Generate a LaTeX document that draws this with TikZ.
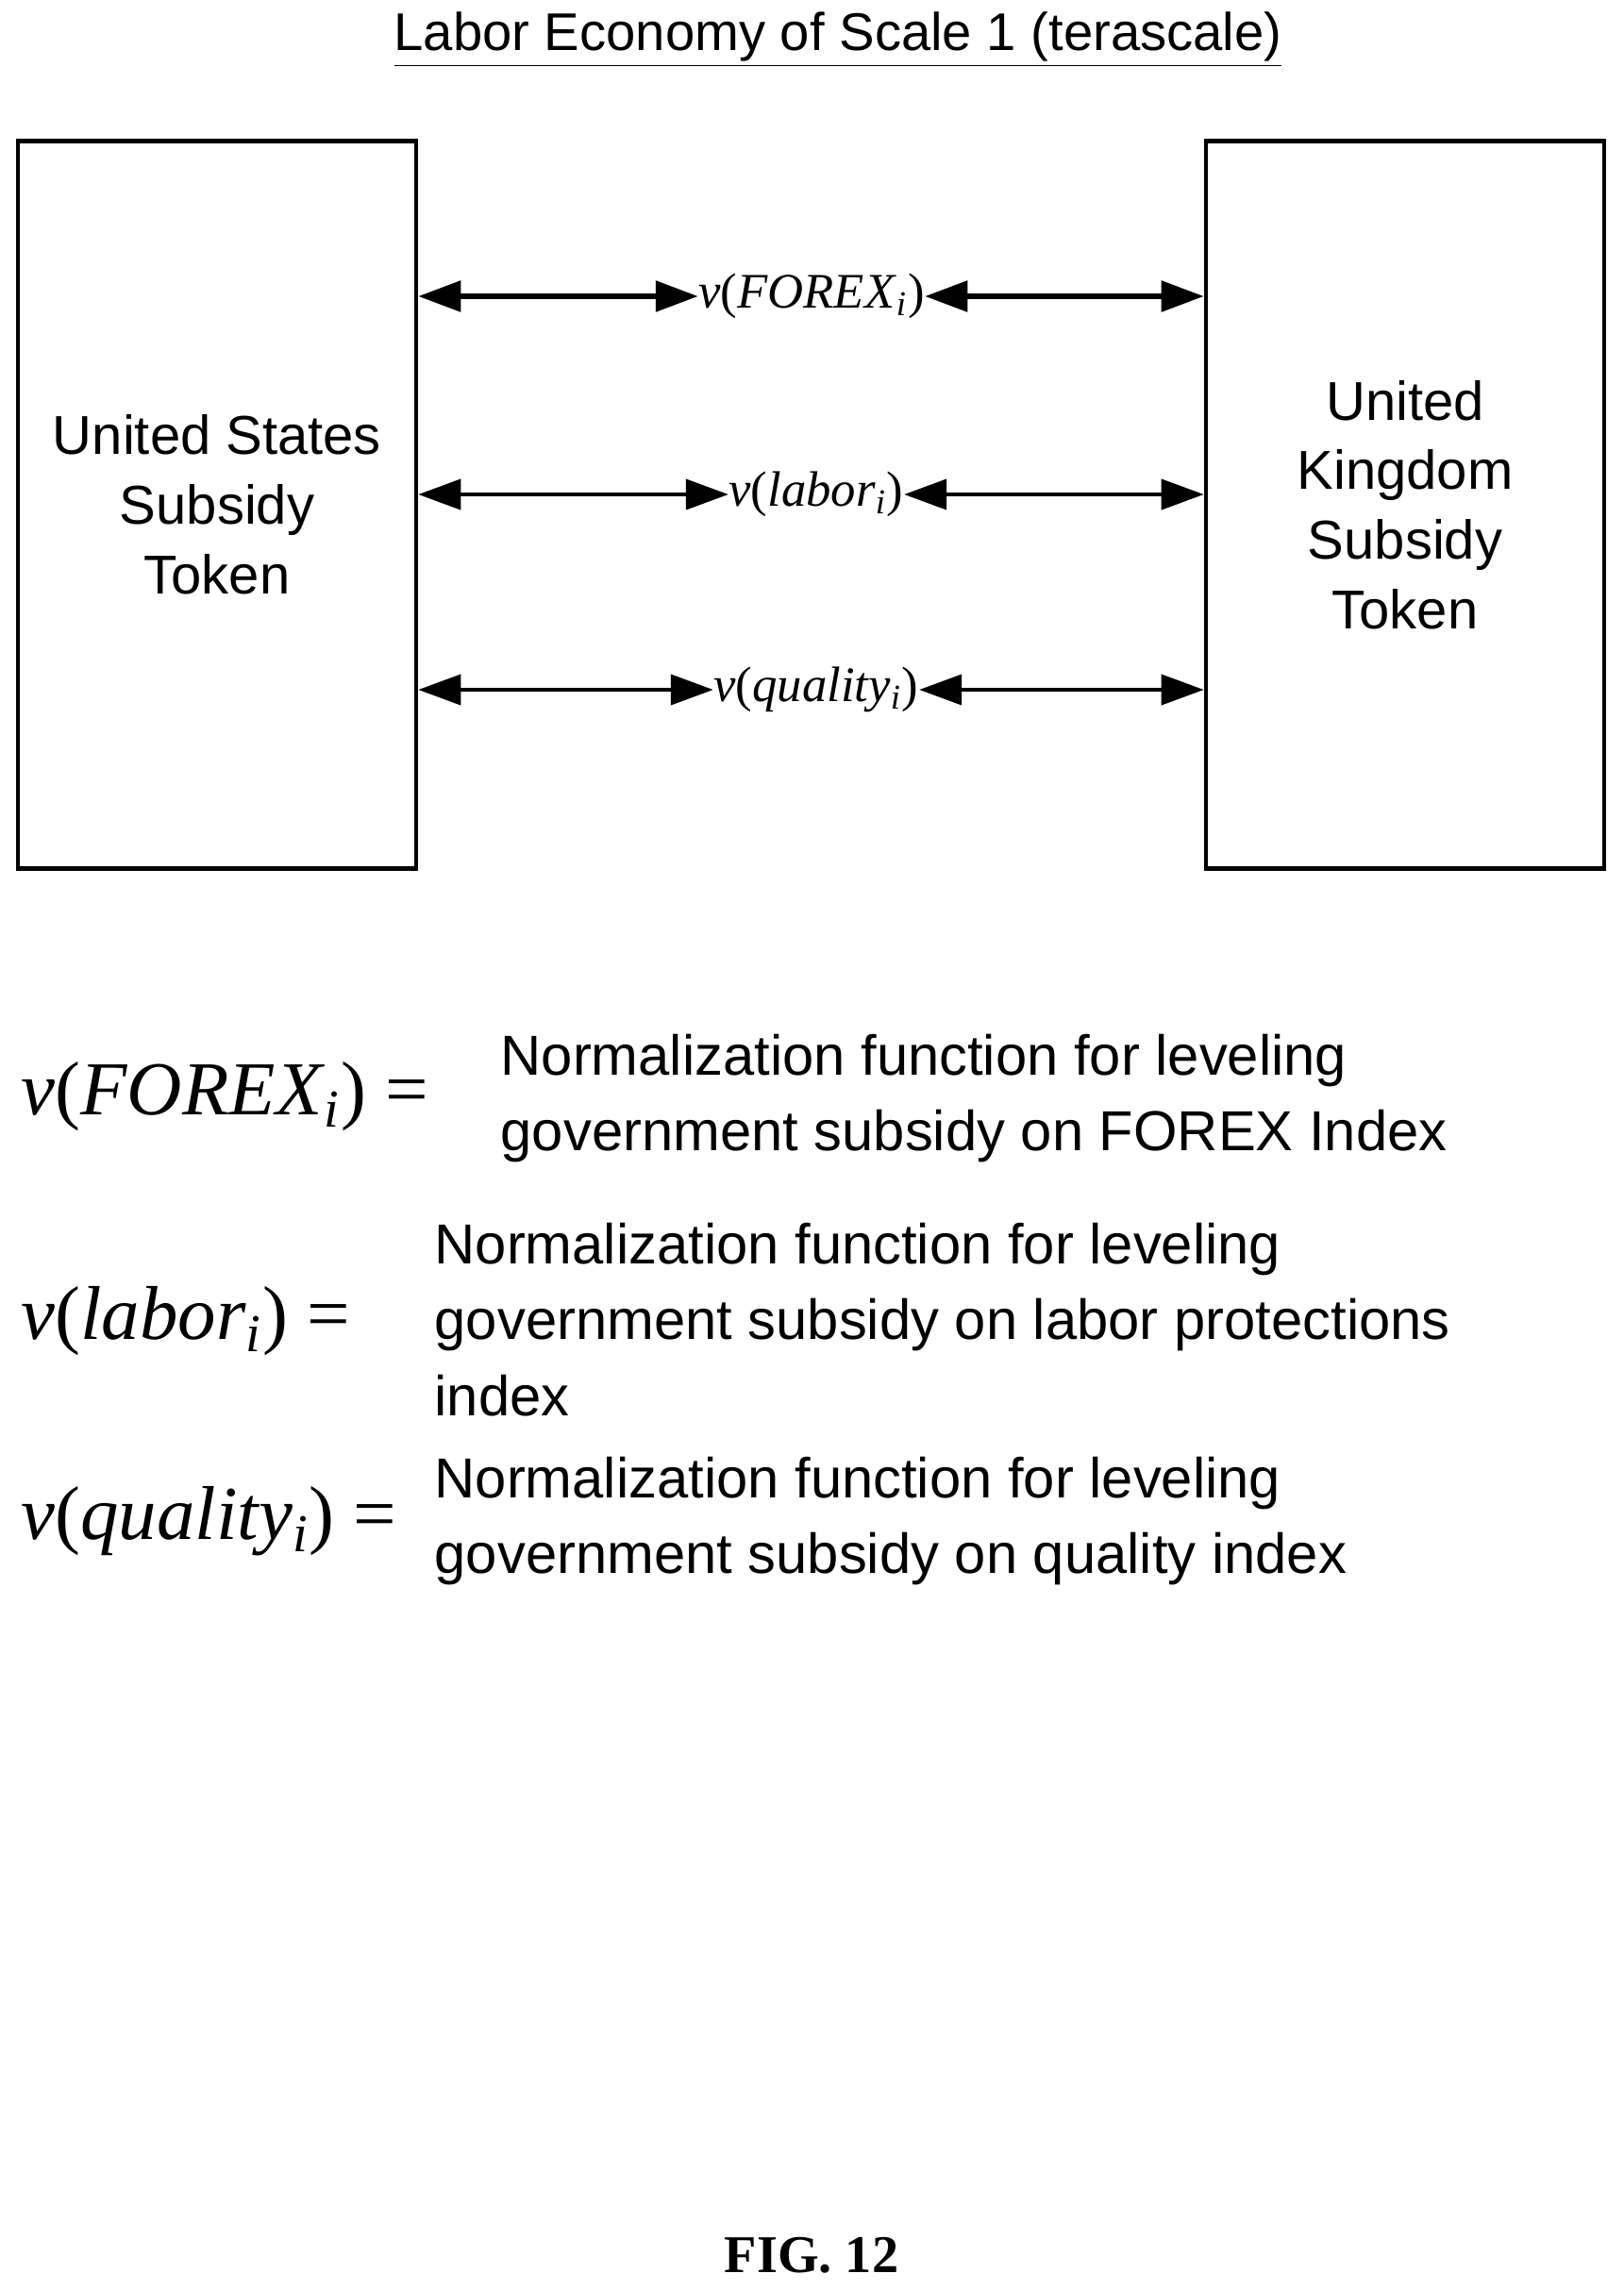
\documentclass[tikz,border=0pt]{standalone}
\usepackage{fontspec}
\setmainfont{Liberation Sans}
\newfontfamily\tms{Liberation Serif}
\usetikzlibrary{arrows.meta,positioning}
\newcommand{\subi}{\textsubscript{\textit{i}}}
\tikzset{
  token/.style={draw, line width=1.3pt, minimum width=4.22cm, minimum height=7.71cm, align=center, font=\fontsize{16.5}{21}\selectfont},
  rel/.style={{Triangle[length=0.45cm,width=0.32cm]}-{Triangle[length=0.45cm,width=0.32cm]}, line width=1.1pt},
  vlab/.style={inner sep=0pt, font=\tms\fontsize{15}{18}\selectfont},
  deflab/.style={anchor=west, inner sep=0pt, font=\tms\fontsize{23}{26}\selectfont},
  deftxt/.style={anchor=north west, align=left, inner sep=0pt, font=\fontsize{17}{23}\selectfont}
}
\begin{document}
\begin{tikzpicture}
  \useasboundingbox (0,0) rectangle (17.21,-24.27);
  % title
  \node (title) at (8.88,-0.42) {\fontsize{16}{20}\selectfont\underline{Labor Economy of Scale 1 (terascale)}};

  % the two tokens
  \node[token] (us) at (2.30,-5.35) {\raisebox{0pt}{}United States\\Subsidy\\Token};
  \node[token] (uk) at (14.89,-5.35) {United\\Kingdom\\Subsidy\\Token};

  % relations
  \node[vlab] (fx) at (8.60,-3.14) {\textit{v}(\textit{FOREX}\subi)};
  \node[vlab] (lb) at (8.65,-5.24) {\textit{v}(\textit{labor}\subi)};
  \node[vlab] (ql) at (8.65,-7.31) {\textit{v}(\textit{quality}\subi)};
  \draw[rel, line width=1.6pt] (us.east |- fx) -- (fx.west);
  \draw[rel, line width=1.6pt] (fx.east) -- (uk.west |- fx);
  \draw[rel] (us.east |- lb) -- (lb.west);
  \draw[rel] (lb.east) -- (uk.west |- lb);
  \draw[rel] (us.east |- ql) -- (ql.west);
  \draw[rel] (ql.east) -- (uk.west |- ql);

  % definitions
  \node[deflab] (d1) at (0.22,-11.62) {\textit{v}(\textit{FOREX}\subi) =};
  \node[deftxt] (t1) at (5.30,-10.95) {Normalization function for leveling\\government subsidy on FOREX Index};
  \node[deflab] (d2) at (0.22,-14.00) {\textit{v}(\textit{labor}\subi) =};
  \node[deftxt] (t2) at (4.60,-12.95) {Normalization function for leveling\\government subsidy on labor protections\\index};
  \node[deflab] (d3) at (0.22,-16.12) {\textit{v}(\textit{quality}\subi) =};
  \node[deftxt] (t3) at (4.60,-15.43) {Normalization function for leveling\\government subsidy on quality index};

  % figure number
  \node (fig) at (8.60,-23.90) {\tms\bfseries\fontsize{16}{20}\selectfont FIG. 12};
\end{tikzpicture}
\end{document}
